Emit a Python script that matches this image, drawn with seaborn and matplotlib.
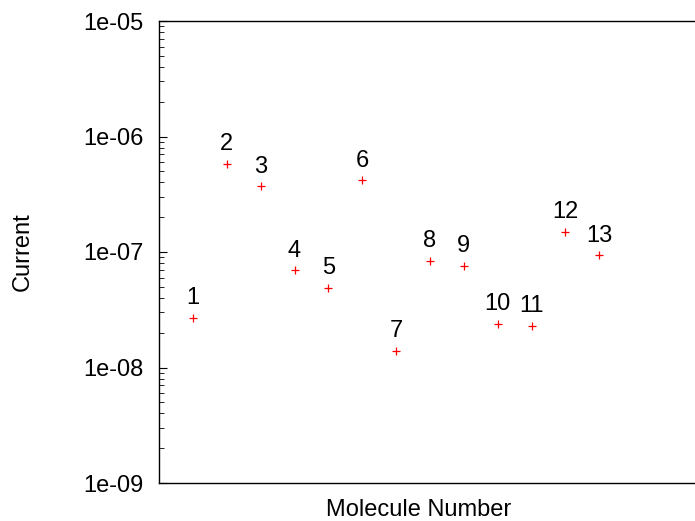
import numpy as np
import pandas as pd
import matplotlib
matplotlib.use("Agg")
import matplotlib.pyplot as plt
import seaborn as sns

molecule = [1, 2, 3, 4, 5, 6, 7, 8, 9, 10, 11, 12, 13]
current = [2.7e-8, 5.8e-7, 3.7e-7, 7.0e-8, 4.9e-8, 4.2e-7, 1.4e-8,
           8.4e-8, 7.6e-8, 2.4e-8, 2.3e-8, 1.5e-7, 9.4e-8]
labels = [str(m) for m in molecule]

df = pd.DataFrame({'molecule': molecule, 'current': current})

sns.set_style("white")
plt.rcParams['font.family'] = ['Liberation Sans', 'DejaVu Sans']
plt.rcParams['text.color'] = 'black'
plt.rcParams['axes.labelcolor'] = 'black'
plt.rcParams['ytick.color'] = 'black'

fig = plt.figure(figsize=(6.95, 5.21), dpi=100)
# right edge of the frame runs off the picture, as in the original
ax = fig.add_axes([159 / 695, 38 / 521, 542 / 695, 462 / 521])

sns.scatterplot(data=df, x='molecule', y='current', marker='+', color='red',
                s=40, linewidth=0.9, ax=ax, legend=False)

for m, c, lab in zip(molecule, current, labels):
    ax.annotate(lab, (m, c), xytext=(0, 6), textcoords='offset points',
                ha='center', va='bottom', fontsize=17, color='black')

ax.set_yscale('log')
ax.set_ylim(1e-9, 1e-5)
ax.set_xlim(0, 16)
ax.set_yticks([1e-9, 1e-8, 1e-7, 1e-6, 1e-5])
ax.set_yticklabels(['1e-09', '1e-08', '1e-07', '1e-06', '1e-05'])
ax.set_xticks([])

ax.tick_params(axis='y', which='major', direction='in', length=6, width=0.8,
               labelsize=17, pad=11, left=True, colors='black')
ax.tick_params(axis='y', which='minor', direction='in', length=3.5, width=0.6,
               left=True, colors='black')

for side in ['left', 'top', 'bottom']:
    ax.spines[side].set_color('black')
    ax.spines[side].set_linewidth(1.0)
ax.spines['right'].set_visible(False)

ax.set_xlabel('Molecule Number', fontsize=17, color='black')
ax.set_ylabel('Current', fontsize=17, color='black')
ax.xaxis.set_label_coords((419 - 159) / 542, -0.035)
ax.yaxis.set_label_coords(-0.232, 0.5)

fig.savefig('out.png', dpi=100)
